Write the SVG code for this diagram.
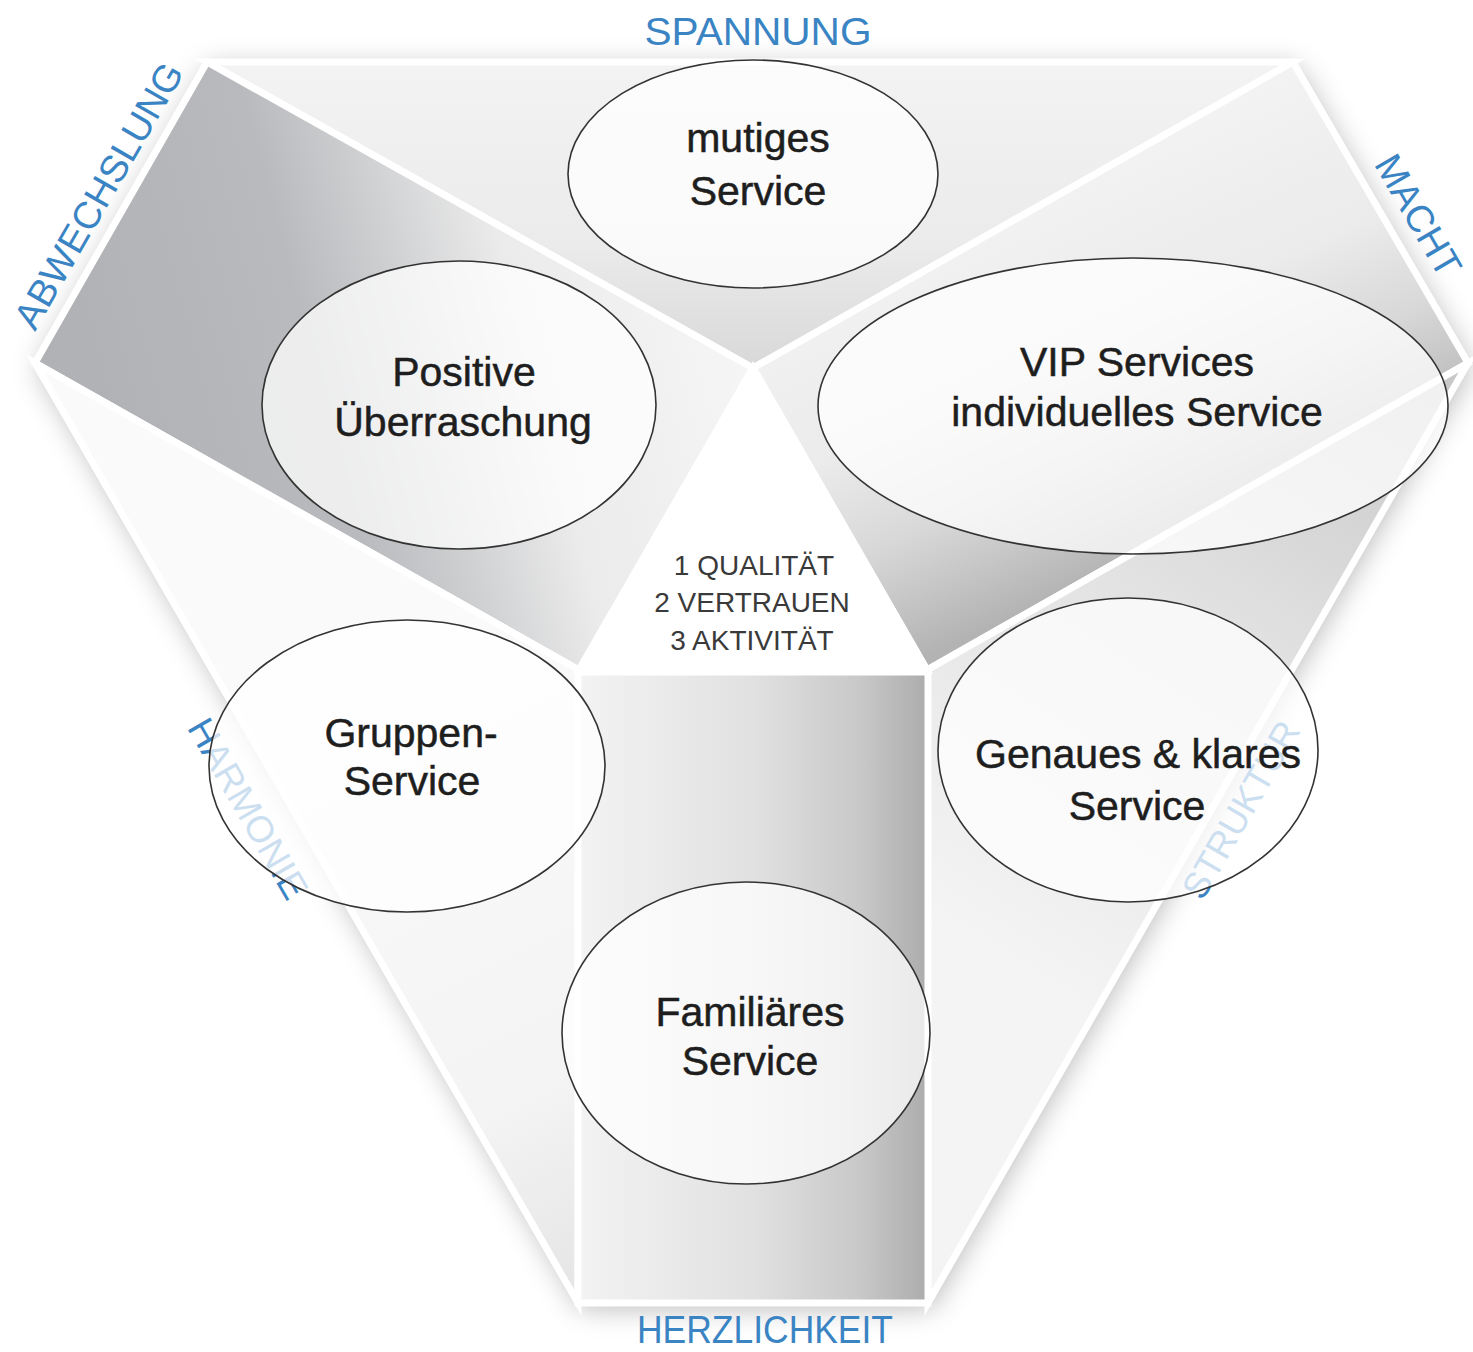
<svg xmlns="http://www.w3.org/2000/svg" width="1473" height="1352" viewBox="0 0 1473 1352">
  <defs>
    <style>
      .panel { stroke: #ffffff; stroke-width: 7; stroke-linejoin: miter; }
      .lbl { font-family: "Liberation Sans", Arial, sans-serif; fill: #3a84c4; text-anchor: middle; }
      .ctr { font-family: "Liberation Sans", Arial, sans-serif; font-size: 28px; fill: #3a3a3a; text-anchor: middle; }
      .node ellipse { fill: #ffffff; fill-opacity: 0.74; stroke: #333333; stroke-width: 1.6; }
      .node text { font-family: "Liberation Sans", Arial, sans-serif; font-size: 41px; fill: #1e1e1e; stroke: #1e1e1e; stroke-width: 0.5; text-anchor: middle; }
    </style>
    <filter id="shadow" x="-10%" y="-10%" width="120%" height="120%">
      <feGaussianBlur stdDeviation="14"/>
    </filter>
    <linearGradient id="gTop" x1="0" y1="62" x2="0" y2="368" gradientUnits="userSpaceOnUse">
      <stop offset="0" stop-color="#f3f3f3"/>
      <stop offset="0.6" stop-color="#ebebeb"/>
      <stop offset="1" stop-color="#d8d8d8"/>
    </linearGradient>
    <linearGradient id="gLeft" x1="0" y1="0" x2="620" y2="-161" gradientUnits="userSpaceOnUse">
      <stop offset="0" stop-color="#b1b2b5"/>
      <stop offset="0.33" stop-color="#b9babd"/>
      <stop offset="0.48" stop-color="#cecfd1"/>
      <stop offset="0.66" stop-color="#ebebeb"/>
      <stop offset="1" stop-color="#f6f6f6"/>
    </linearGradient>
    <linearGradient id="gRight" x1="800" y1="280" x2="960" y2="640" gradientUnits="userSpaceOnUse">
      <stop offset="0" stop-color="#f3f3f3"/>
      <stop offset="0.45" stop-color="#ebebeb"/>
      <stop offset="0.7" stop-color="#d8d8d8"/>
      <stop offset="0.85" stop-color="#c6c6c6"/>
      <stop offset="1" stop-color="#b3b3b3"/>
    </linearGradient>
    <linearGradient id="gBottom" x1="578" y1="0" x2="928" y2="0" gradientUnits="userSpaceOnUse">
      <stop offset="0" stop-color="#f3f3f3"/>
      <stop offset="0.5" stop-color="#e1e1e1"/>
      <stop offset="0.8" stop-color="#c9c9c9"/>
      <stop offset="1" stop-color="#acacac"/>
    </linearGradient>
    <linearGradient id="gLL" x1="300" y1="700" x2="578" y2="1280" gradientUnits="userSpaceOnUse">
      <stop offset="0" stop-color="#fafafa"/>
      <stop offset="0.7" stop-color="#f4f4f4"/>
      <stop offset="1" stop-color="#e6e6e6"/>
    </linearGradient>
    <linearGradient id="gLR" x1="1440" y1="380" x2="1050" y2="1000" gradientUnits="userSpaceOnUse">
      <stop offset="0" stop-color="#c8c8c8"/>
      <stop offset="0.45" stop-color="#e2e2e2"/>
      <stop offset="1" stop-color="#f4f4f4"/>
    </linearGradient>
  </defs>

  <rect x="0" y="0" width="1473" height="1352" fill="#ffffff"/>

  <g id="background">
    <polygon points="207,62 1293,62 1468,363 928,1303 578,1303 35,363" fill="#000000" fill-opacity="0.28" filter="url(#shadow)" transform="translate(3,5)"/>
    <polygon points="207,62 1293,62 1468,363 928,1303 578,1303 35,363" fill="#ffffff"/>
    <polygon id="panel-top" class="panel" points="207,62 1293,62 753,368" fill="url(#gTop)"/>
    <polygon id="panel-left" class="panel" points="207,62 753,368 579,670 35,363" fill="url(#gLeft)"/>
    <polygon id="panel-right" class="panel" points="753,368 1293,62 1468,363 927,670" fill="url(#gRight)"/>
    <polygon id="panel-lowerleft" class="panel" points="35,363 579,670 578,1303" fill="url(#gLL)"/>
    <polygon id="panel-lowerright" class="panel" points="1468,363 927,670 928,1303" fill="url(#gLR)"/>
    <polygon id="panel-bottom" class="panel" points="578,672 928,672 928,1303 578,1303" fill="url(#gBottom)"/>
    <polygon id="panel-center" class="panel" points="753,368 927,670 579,670" fill="#ffffff"/>
  </g>

  <g id="labels">
    <text class="lbl" x="758" y="45" font-size="38" textLength="227" lengthAdjust="spacingAndGlyphs">SPANNUNG</text>
    <text class="lbl" x="765" y="1343" font-size="38" textLength="256" lengthAdjust="spacingAndGlyphs">HERZLICHKEIT</text>
    <text class="lbl" font-size="38" textLength="300" lengthAdjust="spacingAndGlyphs" transform="translate(110,202) rotate(-60)">ABWECHSLUNG</text>
    <text class="lbl" font-size="38" textLength="134" lengthAdjust="spacingAndGlyphs" transform="translate(1407,222) rotate(60)">MACHT</text>
    <text class="lbl" font-size="37" textLength="202" lengthAdjust="spacingAndGlyphs" transform="translate(237,815) rotate(60)">HARMONIE</text>
    <text class="lbl" font-size="37" textLength="198" lengthAdjust="spacingAndGlyphs" transform="translate(1252,816) rotate(-60)">STRUKTUR</text>
  </g>

  <g id="center-text">
    <text class="ctr" x="754" y="575">1 QUALITÄT</text>
    <text class="ctr" x="752" y="612">2 VERTRAUEN</text>
    <text class="ctr" x="752" y="650">3 AKTIVITÄT</text>
  </g>

  <g id="connectors"></g>

  <g id="node-mutiges" class="node">
    <ellipse cx="753" cy="174" rx="185" ry="114"/>
    <text x="758" y="152">mutiges</text>
    <text x="758" y="205">Service</text>
  </g>
  <g id="node-positive" class="node">
    <ellipse cx="459" cy="405" rx="197" ry="144"/>
    <text x="464" y="386">Positive</text>
    <text x="463" y="436">Überraschung</text>
  </g>
  <g id="node-vip" class="node">
    <ellipse cx="1133" cy="406" rx="315" ry="148"/>
    <text x="1137" y="376">VIP Services</text>
    <text x="1137" y="426">individuelles Service</text>
  </g>
  <g id="node-gruppen" class="node">
    <ellipse cx="407" cy="766" rx="198" ry="146"/>
    <text x="411" y="747">Gruppen-</text>
    <text x="412" y="795">Service</text>
  </g>
  <g id="node-genaues" class="node">
    <ellipse cx="1128" cy="750" rx="190" ry="152"/>
    <text x="1138" y="768">Genaues &amp; klares</text>
    <text x="1137" y="820">Service</text>
  </g>
  <g id="node-familiaeres" class="node">
    <ellipse cx="746" cy="1033" rx="184" ry="151"/>
    <text x="750" y="1026">Familiäres</text>
    <text x="750" y="1075">Service</text>
  </g>
</svg>
